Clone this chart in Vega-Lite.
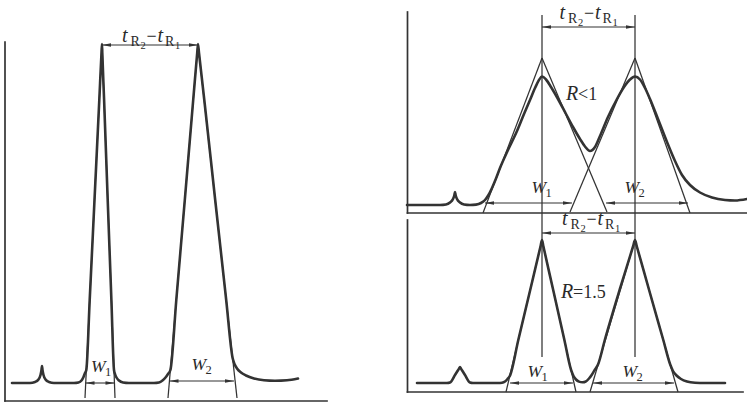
{
  "$schema": "https://vega.github.io/schema/vega-lite/v6.json",
  "width": 747,
  "height": 406,
  "autosize": {"type": "none"},
  "padding": 0,
  "background": "white",
  "config": {"view": {"stroke": null}},
  "datasets": {
    "curves": [
      {"c":"L","t":12,"v":383},{"c":"L","t":30,"v":383},{"c":"L","t":35,"v":382},{"c":"L","t":38.5,"v":379.5},{"c":"L","t":40.5,"v":375},{"c":"L","t":41.5,"v":370},{"c":"L","t":42,"v":366},{"c":"L","t":42.5,"v":370},{"c":"L","t":43.5,"v":375},{"c":"L","t":45.5,"v":379.5},{"c":"L","t":49,"v":382},{"c":"L","t":54,"v":383},{"c":"L","t":74,"v":383},{"c":"L","t":78.5,"v":382.5},{"c":"L","t":81.5,"v":380.5},{"c":"L","t":83.5,"v":377},{"c":"L","t":85,"v":373},{"c":"L","t":86.3,"v":370},{"c":"L","t":89.7,"v":300},{"c":"L","t":94.5,"v":200},{"c":"L","t":99.3,"v":100},{"c":"L","t":101.5,"v":53},{"c":"L","t":102,"v":44},{"c":"L","t":102.3,"v":53},{"c":"L","t":104.1,"v":100},{"c":"L","t":107.7,"v":200},{"c":"L","t":111.4,"v":300},{"c":"L","t":114,"v":370},{"c":"L","t":115,"v":374},{"c":"L","t":116.5,"v":377.5},{"c":"L","t":119,"v":380.5},{"c":"L","t":123,"v":382.5},{"c":"L","t":129,"v":383},{"c":"L","t":154,"v":383},{"c":"L","t":159,"v":382.5},{"c":"L","t":162.5,"v":380.5},{"c":"L","t":165.5,"v":377.5},{"c":"L","t":168,"v":374},{"c":"L","t":170.4,"v":370},{"c":"L","t":176.3,"v":300},{"c":"L","t":184.8,"v":200},{"c":"L","t":193.2,"v":100},{"c":"L","t":197.2,"v":53},{"c":"L","t":198,"v":44},{"c":"L","t":199,"v":53},{"c":"L","t":204.3,"v":100},{"c":"L","t":215.2,"v":200},{"c":"L","t":226.2,"v":300},{"c":"L","t":232.6,"v":358},{"c":"L","t":234.5,"v":364},{"c":"L","t":237,"v":368.5},{"c":"L","t":241,"v":372.5},{"c":"L","t":246,"v":375.5},{"c":"L","t":254,"v":378.5},{"c":"L","t":264,"v":380.3},{"c":"L","t":275,"v":380.8},{"c":"L","t":287,"v":380.3},{"c":"L","t":298,"v":378.5},
      {"c":"T","t":407,"v":205},{"c":"T","t":440,"v":205},{"c":"T","t":446,"v":204.5},{"c":"T","t":450,"v":202.5},{"c":"T","t":453,"v":199},{"c":"T","t":454.3,"v":195.5},{"c":"T","t":455,"v":192},{"c":"T","t":455.7,"v":195.5},{"c":"T","t":457,"v":199},{"c":"T","t":460,"v":202.5},{"c":"T","t":464,"v":204.5},{"c":"T","t":470,"v":205},{"c":"T","t":476,"v":204.6},{"c":"T","t":481,"v":203},{"c":"T","t":485,"v":200},{"c":"T","t":488.5,"v":195},{"c":"T","t":492,"v":188},{"c":"T","t":496,"v":178.5},{"c":"T","t":500,"v":168},{"c":"T","t":508,"v":150},{"c":"T","t":517,"v":131},{"c":"T","t":524,"v":114},{"c":"T","t":530,"v":100},{"c":"T","t":535,"v":88},{"c":"T","t":539,"v":80},{"c":"T","t":542,"v":76.5},{"c":"T","t":546,"v":79.5},{"c":"T","t":551,"v":87},{"c":"T","t":558,"v":99},{"c":"T","t":566,"v":114},{"c":"T","t":573,"v":127},{"c":"T","t":580,"v":139},{"c":"T","t":585,"v":146.5},{"c":"T","t":590,"v":151},{"c":"T","t":595,"v":147},{"c":"T","t":600,"v":136},{"c":"T","t":608,"v":117},{"c":"T","t":617,"v":99},{"c":"T","t":624,"v":87},{"c":"T","t":630,"v":79.5},{"c":"T","t":635,"v":76.5},{"c":"T","t":640,"v":79.5},{"c":"T","t":645,"v":88},{"c":"T","t":650,"v":99},{"c":"T","t":658,"v":119},{"c":"T","t":667,"v":142},{"c":"T","t":675,"v":161},{"c":"T","t":682,"v":175},{"c":"T","t":690,"v":185},{"c":"T","t":700,"v":192.5},{"c":"T","t":712,"v":197.5},{"c":"T","t":725,"v":200},{"c":"T","t":735,"v":200.5},{"c":"T","t":747,"v":199},
      {"c":"B","t":417,"v":383},{"c":"B","t":447,"v":383},{"c":"B","t":450,"v":382.5},{"c":"B","t":455,"v":375},{"c":"B","t":459,"v":368.6},{"c":"B","t":460,"v":367},{"c":"B","t":461,"v":368.6},{"c":"B","t":465,"v":375},{"c":"B","t":470,"v":382.5},{"c":"B","t":473,"v":383},{"c":"B","t":498,"v":383},{"c":"B","t":502,"v":382.7},{"c":"B","t":505,"v":381.5},{"c":"B","t":507.5,"v":379},{"c":"B","t":509.8,"v":376},{"c":"B","t":518.3,"v":340},{"c":"B","t":530.2,"v":290},{"c":"B","t":540.6,"v":246},{"c":"B","t":542,"v":240},{"c":"B","t":543.3,"v":246},{"c":"B","t":553.2,"v":290},{"c":"B","t":564.4,"v":340},{"c":"B","t":571.1,"v":370},{"c":"B","t":573.5,"v":376},{"c":"B","t":576,"v":379.5},{"c":"B","t":579,"v":381.6},{"c":"B","t":582.5,"v":382.3},{"c":"B","t":586,"v":381.3},{"c":"B","t":589,"v":378.5},{"c":"B","t":592,"v":374.5},{"c":"B","t":595,"v":369.5},{"c":"B","t":598,"v":364.5},{"c":"B","t":604.8,"v":340},{"c":"B","t":619.6,"v":290},{"c":"B","t":633.2,"v":246},{"c":"B","t":635,"v":240},{"c":"B","t":636.7,"v":246},{"c":"B","t":649.1,"v":290},{"c":"B","t":663.3,"v":340},{"c":"B","t":670.4,"v":365},{"c":"B","t":673,"v":371},{"c":"B","t":676.5,"v":375.5},{"c":"B","t":681,"v":379},{"c":"B","t":687,"v":381.5},{"c":"B","t":695,"v":382.7},{"c":"B","t":705,"v":383},{"c":"B","t":725,"v":383}
    ],
    "thin": [
      {"g":1,"t":85,"v":398},{"g":1,"t":102,"v":44},
      {"g":2,"t":102,"v":44},{"g":2,"t":115,"v":398},
      {"g":3,"t":168,"v":398},{"g":3,"t":198,"v":44},
      {"g":4,"t":198,"v":44},{"g":4,"t":237,"v":398},
      {"g":5,"t":483,"v":213},{"g":5,"t":542,"v":58},
      {"g":6,"t":542,"v":58},{"g":6,"t":607,"v":212},
      {"g":7,"t":570,"v":212},{"g":7,"t":635,"v":58},
      {"g":8,"t":635,"v":58},{"g":8,"t":690,"v":213},
      {"g":9,"t":506,"v":392},{"g":9,"t":542,"v":240},
      {"g":10,"t":542,"v":240},{"g":10,"t":576,"v":392},
      {"g":11,"t":590,"v":392},{"g":11,"t":635,"v":240},
      {"g":12,"t":635,"v":240},{"g":12,"t":678,"v":392},
      {"g":13,"t":542,"v":15},{"g":13,"t":542,"v":357},
      {"g":14,"t":635,"v":15},{"g":14,"t":635,"v":357}
    ],
    "frames": [
      {"g":1,"t":5,"v":42},{"g":1,"t":5,"v":401},
      {"g":2,"t":5,"v":401},{"g":2,"t":327,"v":401},
      {"g":3,"t":407.5,"v":12},{"g":3,"t":407.5,"v":213},
      {"g":4,"t":407.5,"v":213},{"g":4,"t":747,"v":213},
      {"g":5,"t":407.5,"v":220},{"g":5,"t":407.5,"v":392},
      {"g":6,"t":407.5,"v":392},{"g":6,"t":743,"v":392}
    ],
    "arrows": [
      {"a":1,"t":102,"v":45,"e":"L"},{"a":1,"t":198,"v":45,"e":"R"},
      {"a":2,"t":85.5,"v":383,"e":"L"},{"a":2,"t":114.5,"v":383,"e":"R"},
      {"a":3,"t":169.5,"v":381,"e":"L"},{"a":3,"t":234,"v":381,"e":"R"},
      {"a":4,"t":542,"v":27,"e":"L"},{"a":4,"t":635,"v":27,"e":"R"},
      {"a":5,"t":485,"v":203,"e":"L"},{"a":5,"t":572,"v":203,"e":"R"},
      {"a":6,"t":606,"v":203,"e":"L"},{"a":6,"t":688,"v":203,"e":"R"},
      {"a":7,"t":542,"v":233,"e":"L"},{"a":7,"t":635,"v":233,"e":"R"},
      {"a":8,"t":510,"v":383,"e":"L"},{"a":8,"t":573,"v":383,"e":"R"},
      {"a":9,"t":593,"v":383,"e":"L"},{"a":9,"t":674,"v":383,"e":"R"}
    ],
    "labels": [
      {"k":"it","t":122,"v":41.5,"s":"t"},{"k":"sub","t":130.5,"v":45.5,"s":"R"},{"k":"num","t":140.5,"v":48.5,"s":"2"},{"k":"rm","t":146.5,"v":41.5,"s":"−"},{"k":"it","t":157.5,"v":41.5,"s":"t"},{"k":"sub","t":165,"v":45.5,"s":"R"},{"k":"num","t":175,"v":48.5,"s":"1"},
      {"k":"it","t":559.5,"v":18.5,"s":"t"},{"k":"sub","t":568,"v":22.5,"s":"R"},{"k":"num","t":578,"v":25.5,"s":"2"},{"k":"rm","t":584,"v":18.5,"s":"−"},{"k":"it","t":595,"v":18.5,"s":"t"},{"k":"sub","t":602.5,"v":22.5,"s":"R"},{"k":"num","t":612.5,"v":25.5,"s":"1"},
      {"k":"it","t":562,"v":225,"s":"t"},{"k":"sub","t":570.5,"v":229,"s":"R"},{"k":"num","t":580.5,"v":232,"s":"2"},{"k":"rm","t":586.5,"v":225,"s":"−"},{"k":"it","t":597.5,"v":225,"s":"t"},{"k":"sub","t":605,"v":229,"s":"R"},{"k":"num","t":615,"v":232,"s":"1"},
      {"k":"it","t":566,"v":100,"s":"R"},{"k":"rm","t":578,"v":100,"s":"<1"},
      {"k":"it","t":561,"v":298,"s":"R"},{"k":"rm","t":573,"v":298,"s":"=1.5"},
      {"k":"w","t":91,"v":372,"s":"W"},{"k":"wsub","t":105,"v":376,"s":"1"},
      {"k":"w","t":191.5,"v":370,"s":"W"},{"k":"wsub","t":205.5,"v":374,"s":"2"},
      {"k":"w","t":531.5,"v":193,"s":"W"},{"k":"wsub","t":545.5,"v":197,"s":"1"},
      {"k":"w","t":624.5,"v":193,"s":"W"},{"k":"wsub","t":638.5,"v":197,"s":"2"},
      {"k":"w","t":527.5,"v":377,"s":"W"},{"k":"wsub","t":541.5,"v":381,"s":"1"},
      {"k":"w","t":622.5,"v":377,"s":"W"},{"k":"wsub","t":636.5,"v":381,"s":"2"}
    ]
  },
  "encoding": {
    "x": {"field": "t", "type": "quantitative", "scale": {"domain": [0, 747], "nice": false, "zero": false}, "axis": null},
    "y": {"field": "v", "type": "quantitative", "scale": {"domain": [0, 406], "nice": false, "zero": false, "reverse": true}, "axis": null}
  },
  "layer": [
    {
      "data": {"name": "frames"},
      "mark": {"type": "line", "stroke": "#333", "strokeWidth": 1.7, "strokeCap": "square"},
      "encoding": {"detail": {"field": "g", "type": "nominal"}}
    },
    {
      "data": {"name": "thin"},
      "mark": {"type": "line", "stroke": "#333", "strokeWidth": 1.25},
      "encoding": {"detail": {"field": "g", "type": "nominal"}}
    },
    {
      "data": {"name": "curves"},
      "mark": {"type": "line", "stroke": "#333", "strokeWidth": 2.6, "interpolate": "monotone", "strokeJoin": "round", "strokeCap": "round"},
      "encoding": {"detail": {"field": "c", "type": "nominal"}}
    },
    {
      "data": {"name": "arrows"},
      "mark": {"type": "line", "stroke": "#333", "strokeWidth": 1.1},
      "encoding": {"detail": {"field": "a", "type": "nominal"}}
    },
    {
      "data": {"name": "arrows"},
      "mark": {"type": "point", "filled": true, "size": 56, "color": "#333", "opacity": 1, "strokeWidth": 0},
      "encoding": {
        "shape": {"field": "e", "type": "nominal", "scale": {"domain": ["L", "R"], "range": ["M0,0L2.4,-0.5L2.4,0.5Z", "M0,0L-2.4,-0.5L-2.4,0.5Z"]}, "legend": null}
      }
    },
    {
      "data": {"name": "labels"},
      "transform": [{"filter": "datum.k === 'it'"}],
      "mark": {"type": "text", "font": "Liberation Serif, DejaVu Serif, serif", "fontStyle": "italic", "fontSize": 20, "align": "left", "baseline": "alphabetic", "color": "#2a2a2a"},
      "encoding": {"text": {"field": "s"}}
    },
    {
      "data": {"name": "labels"},
      "transform": [{"filter": "datum.k === 'w'"}],
      "mark": {"type": "text", "font": "Liberation Serif, DejaVu Serif, serif", "fontStyle": "italic", "fontSize": 17.5, "align": "left", "baseline": "alphabetic", "color": "#2a2a2a"},
      "encoding": {"text": {"field": "s"}}
    },
    {
      "data": {"name": "labels"},
      "transform": [{"filter": "datum.k === 'sub'"}],
      "mark": {"type": "text", "font": "Liberation Serif, DejaVu Serif, serif", "fontSize": 14, "align": "left", "baseline": "alphabetic", "color": "#2a2a2a"},
      "encoding": {"text": {"field": "s"}}
    },
    {
      "data": {"name": "labels"},
      "transform": [{"filter": "datum.k === 'num'"}],
      "mark": {"type": "text", "font": "Liberation Serif, DejaVu Serif, serif", "fontSize": 10.5, "align": "left", "baseline": "alphabetic", "color": "#2a2a2a"},
      "encoding": {"text": {"field": "s"}}
    },
    {
      "data": {"name": "labels"},
      "transform": [{"filter": "datum.k === 'wsub'"}],
      "mark": {"type": "text", "font": "Liberation Serif, DejaVu Serif, serif", "fontSize": 12.5, "align": "left", "baseline": "alphabetic", "color": "#2a2a2a"},
      "encoding": {"text": {"field": "s"}}
    },
    {
      "data": {"name": "labels"},
      "transform": [{"filter": "datum.k === 'rm'"}],
      "mark": {"type": "text", "font": "Liberation Serif, DejaVu Serif, serif", "fontSize": 18, "align": "left", "baseline": "alphabetic", "color": "#2a2a2a"},
      "encoding": {"text": {"field": "s"}}
    }
  ]
}
